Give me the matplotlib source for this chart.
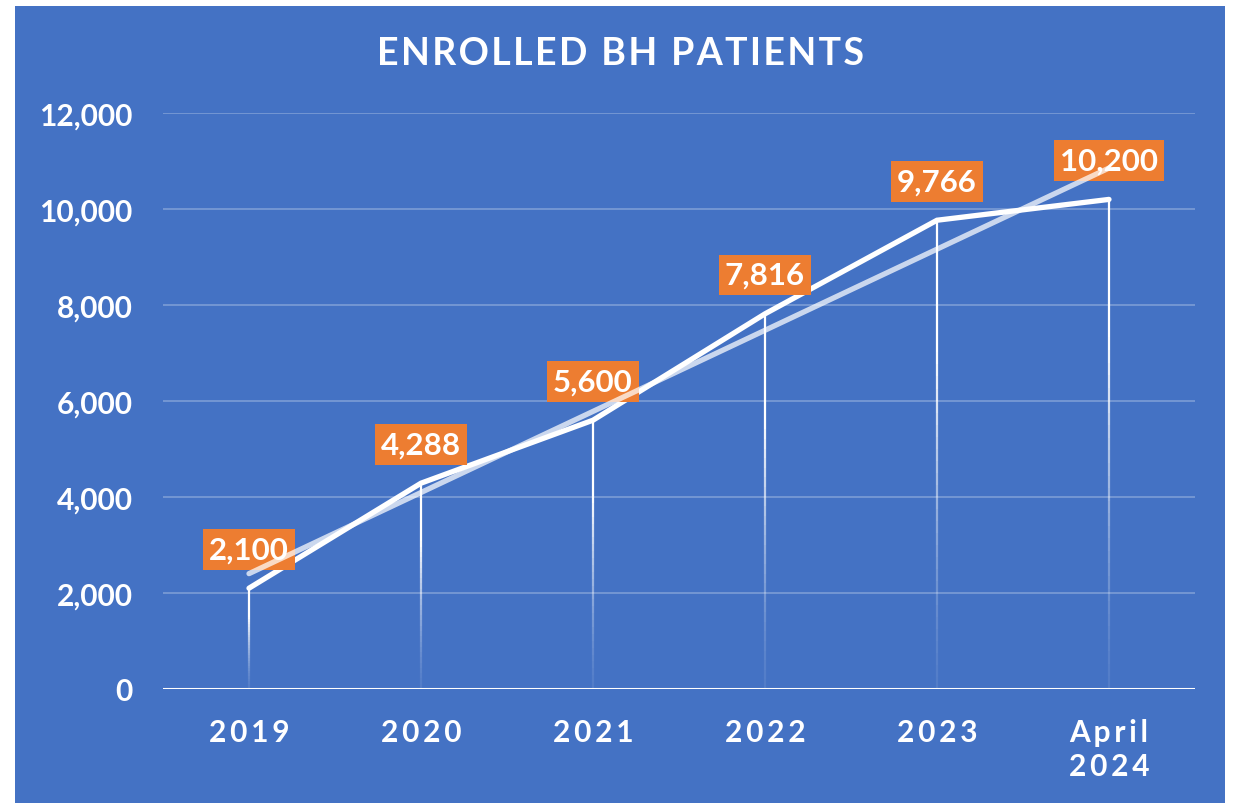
import numpy as np
import matplotlib
matplotlib.use('Agg')
import matplotlib.pyplot as plt
from matplotlib.patches import Rectangle
from matplotlib.collections import LineCollection

# data
categories = ['2019', '2020', '2021', '2022', '2023', 'April\n2024']
patients = [2100, 4288, 5600, 7816, 9766, 10200]
label_text = ['2,100', '4,288', '5,600', '7,816', '9,766', '10,200']
y_ticks = [0, 2000, 4000, 6000, 8000, 10000, 12000]
y_tick_labels = ['0', '2,000', '4,000', '6,000', '8,000', '10,000', '12,000']

BLUE = '#4472C4'
ORANGE = '#ED7D31'
plt.rcParams['font.family'] = ['Lato', 'DejaVu Sans']


def spaced(s, gap):
    # fake letter spacing
    return '\n'.join(gap.join(line) for line in s.split('\n'))


W, H = 1235, 804
fig = plt.figure(figsize=(W / 100, H / 100), dpi=100)
fig.patch.set_facecolor('white')
fig.patches.append(Rectangle((15 / W, 0), 1210 / W, 797 / H, transform=fig.transFigure,
                             facecolor=BLUE, edgecolor='none', zorder=-5))

ax = fig.add_axes([163 / W, 1 - 690 / H, (1195 - 163) / W, (690 - 114) / H])
ax.set_facecolor('none')
x = np.arange(len(categories)) + 0.5
ax.set_xlim(0, len(categories))
ax.set_ylim(0, 12000)

# gridlines
for yt in y_ticks[1:]:
    ax.axhline(yt, color='white', alpha=0.3, lw=1.2, zorder=1)
ax.axhline(0, color='white', lw=2.2, zorder=2)

# drop lines with fade toward the bottom
for xi, v in zip(x, patients):
    ys = np.linspace(0, v, 40)
    segs = [[(xi, ys[i]), (xi, ys[i + 1])] for i in range(len(ys) - 1)]
    frac = (ys[:-1] + ys[1:]) / 2 / v
    cols = [(1, 1, 1, 0.08 + 0.92 * min(1, f * 1.4) ** 1.5) for f in frac]
    ax.add_collection(LineCollection(segs, colors=cols, linewidths=1.6, zorder=2))

# data line
ax.plot(x, patients, color='white', lw=3.8, solid_capstyle='round',
        solid_joinstyle='miter', zorder=3)

# labels
for xi, v, t in zip(x, patients, label_text):
    ax.annotate(t, (xi, v), xytext=(0, 28), textcoords='offset points',
                ha='center', va='center', color='white', fontsize=22.5,
                fontweight='bold', zorder=4,
                bbox=dict(boxstyle='square,pad=0.2', facecolor=ORANGE, edgecolor='none'))

# linear trend line
slope, icpt = np.polyfit(np.arange(len(patients)), patients, 1)
trend = slope * np.arange(len(patients)) + icpt
ax.plot(x, trend, color='white', alpha=0.72, lw=3.8, solid_capstyle='round', zorder=5)

ax.set_yticks(y_ticks)
ax.set_yticklabels(y_tick_labels)
ax.set_xticks(x)
ax.set_xticklabels([spaced(c, '\u2009') for c in categories], linespacing=1.25)
ax.tick_params(axis='y', length=0, pad=22, labelsize=21.5, labelcolor='white')
ax.tick_params(axis='x', length=0, pad=21, labelsize=21.5, labelcolor='white')
for lab in ax.get_xticklabels() + ax.get_yticklabels():
    lab.set_fontweight('bold')
for s in ax.spines.values():
    s.set_visible(False)

fig.text(621 / W, 1 - 54 / H, spaced('ENROLLED BH PATIENTS', '\u200a'),
         ha='center', va='center', color='white', fontsize=27, fontweight='bold')

fig.savefig('out.png', dpi=100, facecolor='white')
